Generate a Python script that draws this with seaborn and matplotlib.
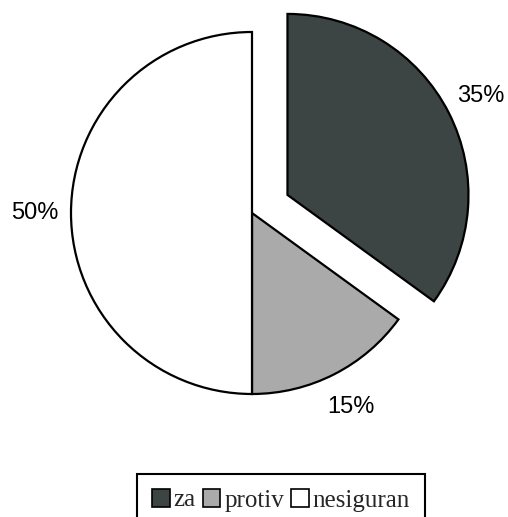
import matplotlib
matplotlib.use("Agg")
import matplotlib.pyplot as plt
import seaborn as sns

sns.set_style("white")

# %% Data

labels = ['za', 'protiv', 'nesiguran']
shares = [35, 15, 50]
colors = ['#3c4543', '#a9aaa9', '#ffffff']
explode = [0.22, 0, 0]  # fraction of radius

# %% Plot

fig = plt.figure(figsize=(5.08, 5.17), dpi=100)
ax = fig.add_axes([0, 0, 1, 1])

radius = 181
wedges, texts, autotexts = ax.pie(
    shares,
    colors=colors,
    explode=[e * radius for e in explode],
    startangle=90,
    counterclock=False,
    center=(252, 304),
    radius=radius,
    autopct='%1.0f%%',
    pctdistance=1.2,
    frame=False,
    wedgeprops=dict(edgecolor='black', linewidth=1.6),
    textprops=dict(family='Liberation Sans', fontsize=17, color='black'),
)
ax.set_xlim(0, 508)
ax.set_ylim(0, 517)
ax.axis('off')

leg = fig.legend(
    wedges, labels,
    loc='upper center',
    bbox_to_anchor=(281 / 508, 1 - 474 / 517),
    ncol=3,
    frameon=True,
    fancybox=False,
    edgecolor='black',
    framealpha=1,
    prop=dict(family='Liberation Serif', size=18),
    handlelength=0.7,
    handleheight=0.7,
    handletextpad=0.15,
    columnspacing=0.3,
    borderpad=0.6,
    borderaxespad=0,
)
leg.get_frame().set_linewidth(1.5)
for h in leg.legend_handles:
    h.set_linewidth(1.2)

plt.savefig('out.png', dpi=100)
